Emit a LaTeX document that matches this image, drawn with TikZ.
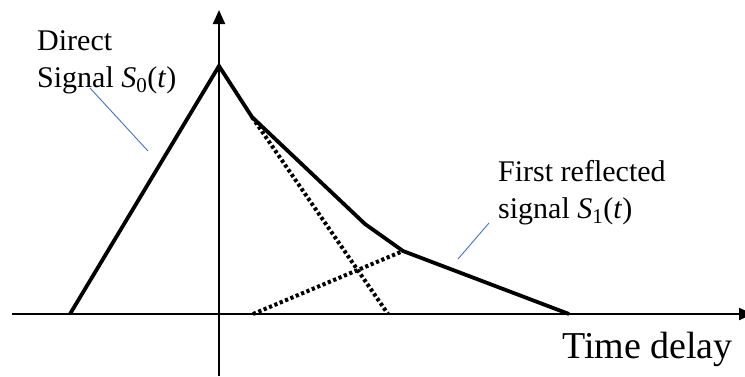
\documentclass[tikz,border=0pt]{standalone}
\usepackage{fontspec}
\setmainfont{Liberation Serif}
\usetikzlibrary{arrows.meta}
\definecolor{leaderblue}{HTML}{4472C4}

\begin{document}
\begin{tikzpicture}[x=1pt, y=-1pt,
    axis/.style={line width=2.2pt, -{Triangle[length=14pt,width=12pt]}},
    signal/.style={line width=3.8pt, line join=miter},
    echo/.style={line width=4pt, dash pattern=on 3.2pt off 2.6pt},
    leader/.style={draw=leaderblue, line width=0.9pt},
    lbl/.style={inner sep=0pt, align=left, font=\fontsize{30}{37}\selectfont},
]
\useasboundingbox (0,0) rectangle (745,376);

% Axes
\draw[axis] (219,376) -- (219,10);
\draw[axis] (12,314) -- (753,314);

% Curve points
\coordinate (start) at (70,314);
\coordinate (peak)  at (219,66);
\coordinate (knee)  at (252,117);
\coordinate (bend)  at (365,224);
\coordinate (hit)   at (403,251);
\coordinate (stop)  at (569,314);
\coordinate (dend)  at (388,314);
\coordinate (rbeg)  at (253,314);

% Signals
\draw[signal] (start) -- (peak) -- (knee) -- (bend) -- (hit) -- (stop);
\draw[echo] (knee) -- (dend);
\draw[echo] (rbeg) -- (hit);

% Labels
\node[lbl, anchor=base west] (direct) at (37,87) {Direct\\Signal \textit{S}\textsubscript{0}(\textit{t})};
\node[lbl, anchor=base west] (reflected) at (498,218) {First reflected\\signal \textit{S}\textsubscript{1}(\textit{t})};
\node[lbl, anchor=base west, font=\fontsize{38}{44}\selectfont] (delay) at (562,358) {Time delay};

% Leaders
\coordinate (ld1) at (90,88);
\coordinate (ld2) at (148,151);
\coordinate (lr1) at (489,223);
\coordinate (lr2) at (458,259);
\draw[leader] (ld1) -- (ld2);
\draw[leader] (lr1) -- (lr2);
\end{tikzpicture}
\end{document}
